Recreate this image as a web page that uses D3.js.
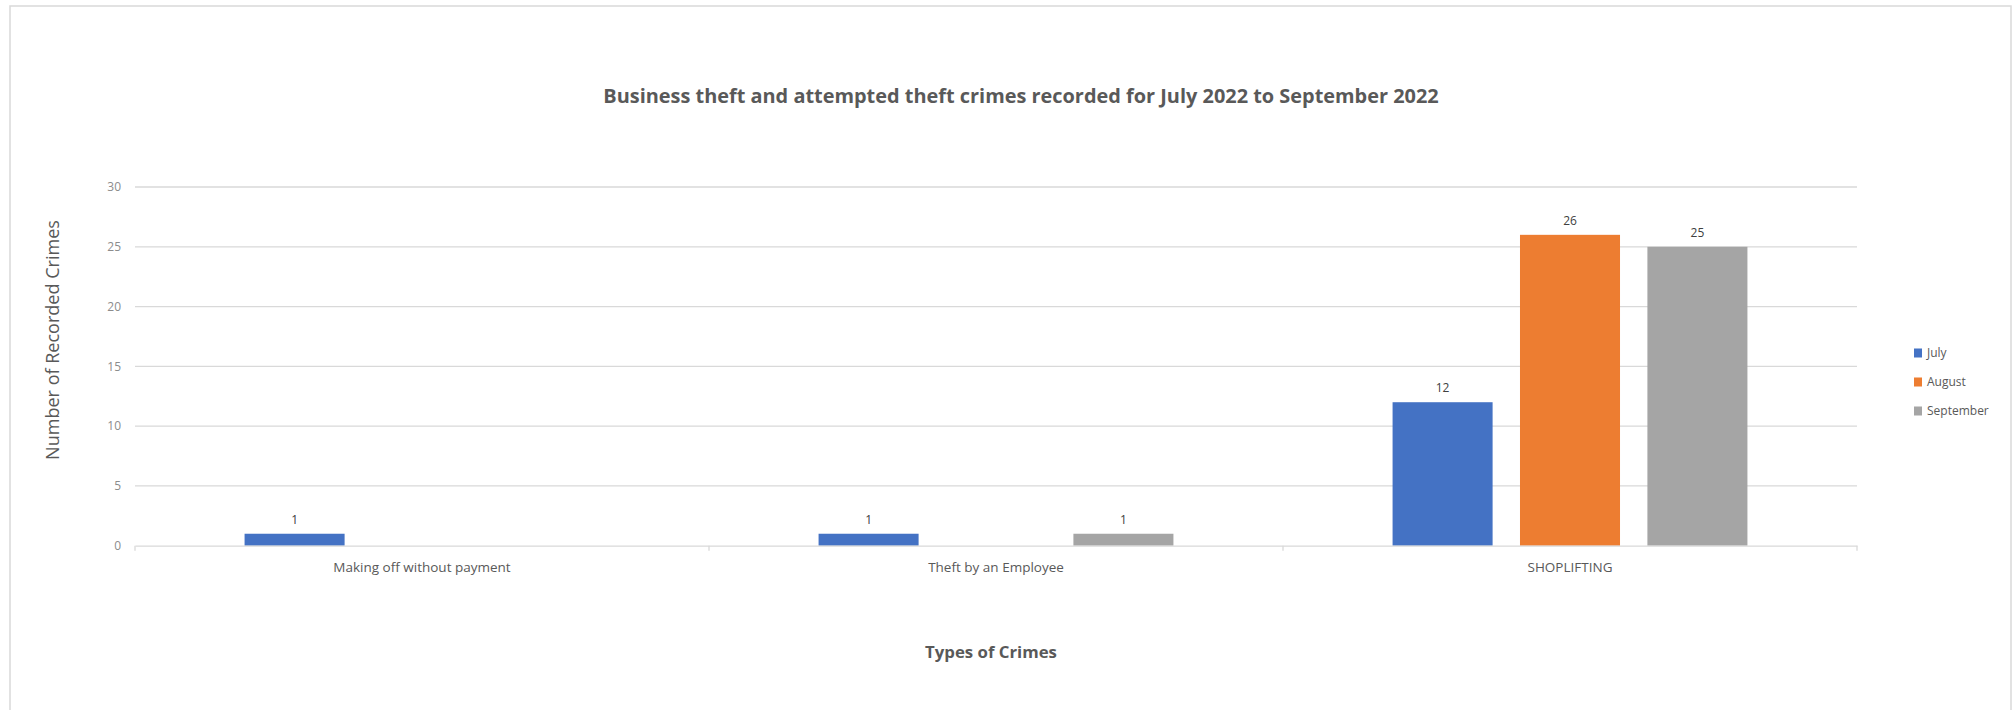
<!DOCTYPE html>
<html>
<head>
<meta charset="utf-8">
<script src="https://cdn.jsdelivr.net/npm/d3@7"></script>
<style>
  html, body { margin: 0; padding: 0; background: #ffffff; }
  svg { display: block; }
</style>
</head>
<body>
<svg id="chart" width="2013" height="710"></svg>
<script>
const categories = ["Making off without payment", "Theft by an Employee", "SHOPLIFTING"];
const seriesNames = ["July", "August", "September"];
const july = [1, 1, 12];
const august = [0, 0, 26];
const september = [0, 1, 25];
const yTicks = [0, 5, 10, 15, 20, 25, 30];
const colors = ["#4472C4", "#ED7D31", "#A5A5A5"];
const titleText = "Business theft and attempted theft crimes recorded for July 2022 to September 2022";
const yTitle = "Number of  Recorded Crimes";
const xTitle = "Types of Crimes";

const seriesValues = [july, august, september];
const rows = categories.map((c, i) => ({
  cat: c,
  vals: seriesNames.map((s, k) => ({ series: s, value: seriesValues[k][i], color: colors[k] }))
}));

const svg = d3.select("#chart");
const font = "'Open Sans', 'Noto Sans', sans-serif";

// outer border
svg.append("rect")
  .attr("x", 10).attr("y", 6).attr("width", 2001).attr("height", 720)
  .attr("fill", "none").attr("stroke", "#d9d9d9").attr("stroke-width", 1.5);

const plot = { left: 135, right: 1857, top: 187, bottom: 545.7 };

const x0 = d3.scaleBand().domain(categories).range([plot.left, plot.right]).paddingInner(0).paddingOuter(0);
const x1 = d3.scaleBand().domain(seriesNames).range([0, x0.bandwidth()]).paddingInner(0.215).paddingOuter(0.86);
const y = d3.scaleLinear().domain([0, 30]).range([plot.bottom, plot.top]);

// gridlines
svg.append("g").selectAll("line").data(yTicks.filter(t => t > 0)).join("line")
  .attr("x1", plot.left).attr("x2", plot.right)
  .attr("y1", d => y(d)).attr("y2", d => y(d))
  .attr("stroke", "#d9d9d9").attr("stroke-width", 1.3);

// y tick labels
svg.append("g").selectAll("text").data(yTicks).join("text")
  .attr("x", 121).attr("y", d => y(d)).attr("dy", "0.35em")
  .attr("text-anchor", "end")
  .attr("font-family", font).attr("font-size", 12).attr("fill", "#8c8c8c")
  .text(d => d);

// bars
const groups = svg.append("g").selectAll("g").data(rows).join("g")
  .attr("transform", d => `translate(${x0(d.cat)},0)`);
groups.selectAll("rect").data(d => d.vals.filter(v => v.value > 0)).join("rect")
  .attr("x", d => x1(d.series))
  .attr("width", x1.bandwidth())
  .attr("y", d => y(d.value))
  .attr("height", d => y(0) - y(d.value))
  .attr("fill", d => d.color);
groups.selectAll("text").data(d => d.vals.filter(v => v.value > 0)).join("text")
  .attr("x", d => x1(d.series) + x1.bandwidth() / 2)
  .attr("y", d => y(d.value) - 10)
  .attr("text-anchor", "middle")
  .attr("font-family", font).attr("font-size", 12).attr("fill", "#404040")
  .text(d => d.value);

// x axis
const xAxis = d3.axisBottom(x0).tickSize(0).tickFormat("");
const gx = svg.append("g").attr("transform", `translate(0,${y(0)})`).call(xAxis);
gx.select(".domain").attr("stroke", "#d9d9d9").attr("stroke-width", 1.3);
// category boundary ticks
svg.append("g").selectAll("line")
  .data(categories.map(c => x0(c)).concat([plot.right])).join("line")
  .attr("x1", d => d).attr("x2", d => d)
  .attr("y1", y(0)).attr("y2", y(0) + 5)
  .attr("stroke", "#d9d9d9").attr("stroke-width", 1.3);
// category labels
svg.append("g").selectAll("text").data(categories).join("text")
  .attr("x", d => x0(d) + x0.bandwidth() / 2).attr("y", 567).attr("dy", "0.35em")
  .attr("text-anchor", "middle")
  .attr("font-family", font).attr("font-size", 13.5).attr("fill", "#595959")
  .text(d => d);

// title
const t = svg.append("text")
  .attr("x", 1021).attr("y", 96).attr("dy", "0.35em")
  .attr("text-anchor", "middle")
  .attr("font-family", font).attr("font-size", 18).attr("font-weight", "bold").attr("fill", "#595959")
  .text(titleText);
const tw = t.node().getComputedTextLength();
t.attr("font-size", 18 * 836 / tw);

// y title
const yt = svg.append("text")
  .attr("transform", "translate(53,340) rotate(-90)")
  .attr("dy", "0.35em")
  .attr("text-anchor", "middle")
  .attr("font-family", font).attr("font-size", 16).attr("fill", "#595959")
  .text(yTitle);
const yw = yt.node().getComputedTextLength();
yt.attr("font-size", 16 * 240 / yw);

// x title
svg.append("text")
  .attr("x", 991).attr("y", 652).attr("dy", "0.35em")
  .attr("text-anchor", "middle")
  .attr("font-family", font).attr("font-size", 16.8).attr("font-weight", "bold").attr("fill", "#595959")
  .text(xTitle);

// legend
const lg = svg.append("g").selectAll("g").data(seriesNames).join("g")
  .attr("transform", (d, i) => `translate(1914,${353 + i * 29})`);
lg.append("rect").attr("x", 0).attr("y", -4.5).attr("width", 8).attr("height", 9)
  .attr("fill", (d, i) => colors[i]);
lg.append("text").attr("x", 13).attr("y", 0).attr("dy", "0.35em")
  .attr("font-family", font).attr("font-size", 12).attr("fill", "#595959")
  .text(d => d);
</script>
</body>
</html>
